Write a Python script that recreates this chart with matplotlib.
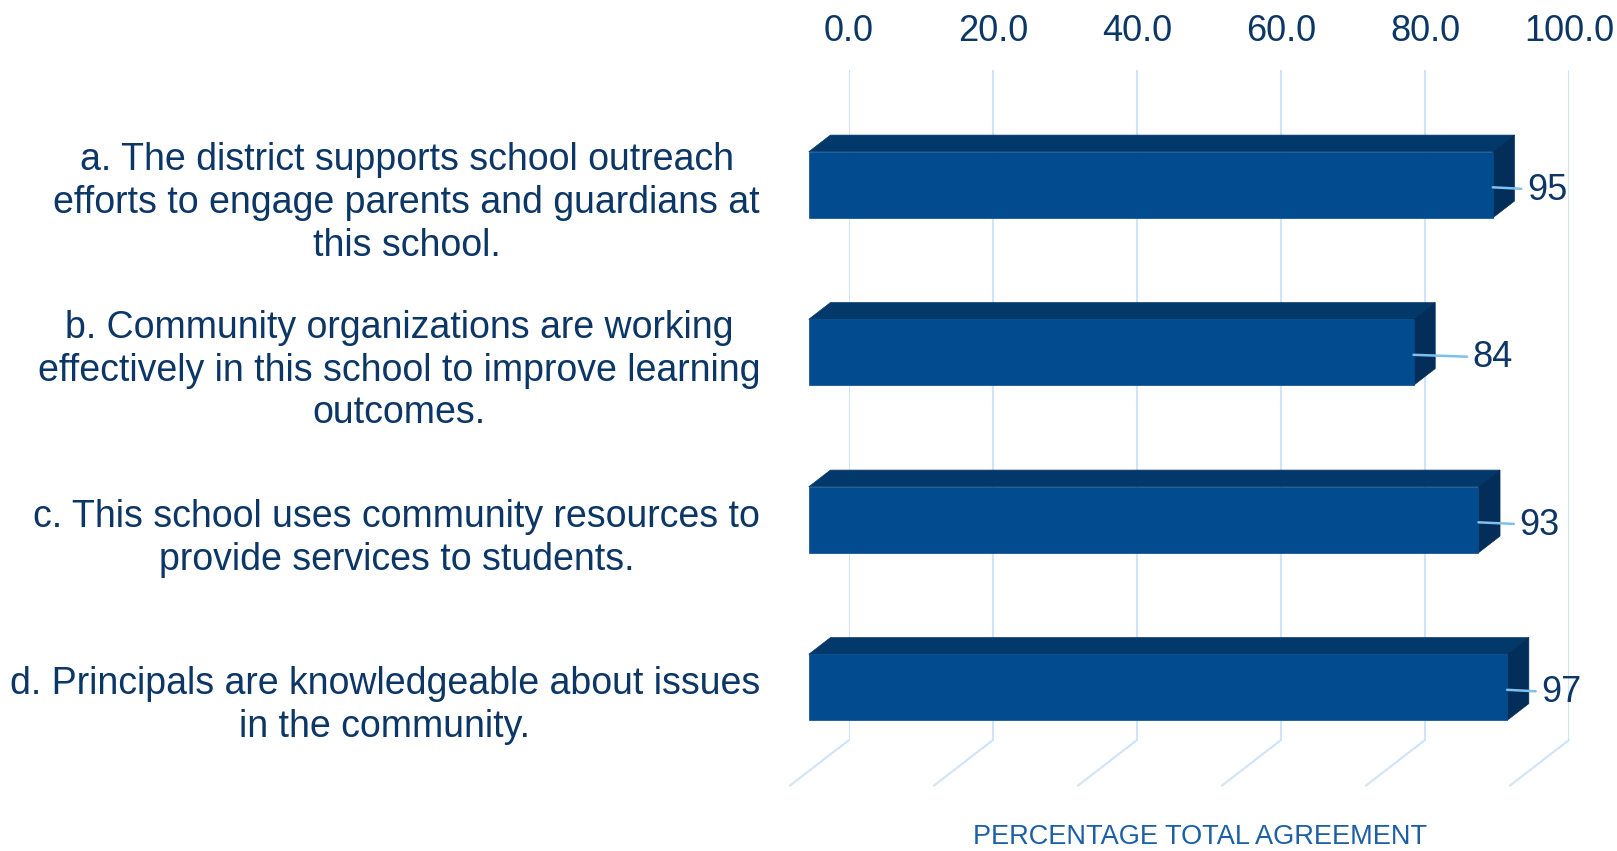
import numpy as np
import matplotlib
matplotlib.use("Agg")
import matplotlib.pyplot as plt
from matplotlib.patches import Polygon
from matplotlib.transforms import blended_transform_factory

# ---- data -------------------------------------------------------------
categories = [
    "a. The district supports school outreach\nefforts to engage parents and guardians at\nthis school.",
    "b. Community organizations are working\neffectively in this school to improve learning\noutcomes.",
    "c. This school uses community resources to\nprovide services to students.",
    "d. Principals are knowledgeable about issues\nin the community.",
]
values = [95, 84, 93, 97]
ticks = [0, 20, 40, 60, 80, 100]
tick_labels = ["0.0", "20.0", "40.0", "60.0", "80.0", "100.0"]
axis_title = "PERCENTAGE TOTAL AGREEMENT"

# ---- style ------------------------------------------------------------
plt.rcParams["font.family"] = ["Liberation Sans", "DejaVu Sans"]
NAVY = "#0b3666"
FRONT = "#024b8e"
TOP = "#03386b"
SIDE = "#022e59"
GRID = "#cfe4f9"
LEADER = "#80c0ef"
TITLE = "#1d5fa5"

W, H, DPI = 1617, 851, 100
fig = plt.figure(figsize=(W / DPI, H / DPI), dpi=DPI)
fig.patch.set_facecolor("white")

# back wall of the 3-D plot area, in figure pixels
left_px, right_px, top_px, bottom_px = 849, 1569, 70, 740
ax = fig.add_axes([left_px / W, 1 - bottom_px / H,
                   (right_px - left_px) / W, (bottom_px - top_px) / H])
ax.set_xlim(0, 100)
ax.set_ylim(len(values) - 0.5, -0.5)
ax.set_facecolor("none")
for s in ax.spines.values():
    s.set_visible(False)
ax.set_yticks([])
ax.xaxis.tick_top()
ax.set_xticks(ticks, tick_labels)
ax.tick_params(axis="x", length=0, pad=15, labelsize=26, labelcolor=NAVY)
ax.grid(axis="x", color=GRID, linewidth=1.5)
ax.set_axisbelow(True)


def px_to_data(dx, dy):
    """Screen offset in pixels (y up) expressed in data units."""
    p0 = ax.transData.transform((0, 0))
    return ax.transData.inverted().transform(p0 + np.array([dx, dy]))


# oblique depth direction of the floor (from wall to front edge)
depth = px_to_data(-58.8, -45.4)
back = 0.316 * depth
front = 0.684 * depth

# floor lines continuing the gridlines toward the viewer
y_floor = len(values) - 0.5
for t in ticks:
    ax.plot([t, t + depth[0]], [y_floor, y_floor + depth[1]],
            color=GRID, lw=1.5, clip_on=False, zorder=1)

bar_h = 0.394
label_gap_pt = [24.5, 42.5, 29.5, 24.5]

for i, v in enumerate(values):
    y_top, y_bot = i - bar_h / 2, i + bar_h / 2
    top_face = np.array([(0, y_top), (v, y_top), (v, y_top), (0, y_top)], float)
    top_face[:2] += back
    top_face[2:] += front
    side_face = np.array([(v, y_top), (v, y_bot), (v, y_bot), (v, y_top)], float)
    side_face[:2] += back
    side_face[2:] += front
    ax.add_patch(Polygon(top_face, closed=True, facecolor=TOP, edgecolor=TOP,
                         lw=0.5, clip_on=False, zorder=3))
    ax.add_patch(Polygon(side_face, closed=True, facecolor=SIDE, edgecolor=SIDE,
                         lw=0.5, clip_on=False, zorder=3))
    ax.barh(i + front[1], v, height=bar_h, left=front[0], color=FRONT,
            edgecolor=FRONT, lw=0.5, clip_on=False, zorder=4)

    ax.annotate(f"{v}", xy=(v + front[0], i + front[1] + 0.015),
                xytext=(label_gap_pt[i], -2), textcoords="offset points",
                ha="left", va="center", fontsize=26, color=NAVY,
                annotation_clip=False, zorder=5,
                arrowprops=dict(arrowstyle="-", color=LEADER, lw=1.8,
                                shrinkA=2, shrinkB=0))

# category labels, aligned on the front edge of the floor
lab_shift = depth[1] + px_to_data(0, -4)[1]
lab_tr = blended_transform_factory(fig.transFigure, ax.transData)
for i, txt in enumerate(categories):
    ax.text(760 / W, i + lab_shift, txt, transform=lab_tr, ha="right",
            va="center", multialignment="center", fontsize=27,
            linespacing=1.24, color=NAVY, clip_on=False)

fig.text(1200 / W, 1 - 837 / H, axis_title, ha="center", va="center",
         fontsize=19.5, color=TITLE)

fig.savefig("out.png", dpi=DPI)
